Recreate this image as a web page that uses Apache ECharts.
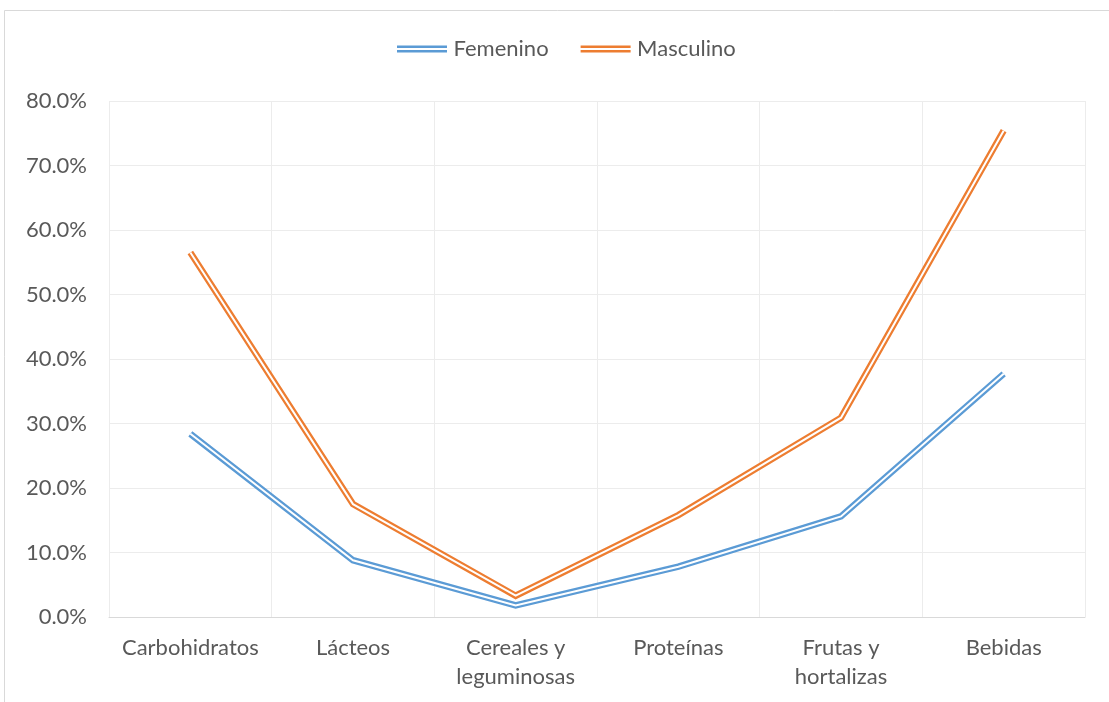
<!DOCTYPE html>
<html>
<head>
<meta charset="utf-8">
<script src="https://cdn.jsdelivr.net/npm/echarts@6/dist/echarts.min.js"></script>
<style>
  html, body { margin: 0; padding: 0; background: #ffffff; }
  #chart { width: 1109px; height: 702px; }
</style>
</head>
<body>
<div id="chart"></div>
<script>
// Categories and percentages per group
const categories = ['Carbohidratos', 'Lácteos', 'Cereales y\nleguminosas', 'Proteínas', 'Frutas y\nhortalizas', 'Bebidas'];
const femenino = [28.4, 8.8, 1.8, 7.8, 15.6, 37.7];
const masculino = [56.5, 17.5, 3.3, 15.8, 30.9, 75.4];
const yTicks = { min: 0, max: 80, interval: 10 };

const BLUE = '#5b9bd5';
const ORANGE = '#ed7d31';
const FONT = 'Lato, "Open Sans", sans-serif';
const FS = 22;

// Each series is drawn as a wide coloured stroke with a thin white stroke on top,
// giving a double-line appearance.
function doubleLine(name, data, color) {
  return [
    {
      name: name, type: 'line', data: data, symbol: 'none', silent: true,
      color: color,
      lineStyle: { color: color, width: 6.5, join: 'miter', cap: 'butt' },
      z: 2
    },
    {
      name: name + ' (inner)', type: 'line', data: data, symbol: 'none', silent: true,
      lineStyle: { color: '#ffffff', width: 2, join: 'miter', cap: 'butt' },
      z: 3
    }
  ];
}

const chart = echarts.init(document.getElementById('chart'), null, { renderer: 'canvas' });
chart.setOption({
  animation: false,
  backgroundColor: '#ffffff',
  textStyle: { fontFamily: FONT },
  graphic: [{
    type: 'rect', silent: true, z: -1,
    shape: { x: 4.5, y: 10.5, width: 1200, height: 800 },
    style: { fill: 'none', stroke: '#d9d9d9', lineWidth: 1 }
  }],
  legend: {
    data: [
      { name: 'Femenino', icon: 'path://M0,0H50V2.6H0Z M0,4.4H50V7H0Z' },
      { name: 'Masculino', icon: 'path://M0,0H50V2.6H0Z M0,4.4H50V7H0Z' }
    ],
    top: 33, left: 392,
    itemWidth: 53, itemHeight: 7, itemGap: 32,
    textStyle: { fontSize: FS, color: '#595959', fontFamily: FONT }
  },
  grid: { left: 109, right: 24, top: 101, bottom: 85, containLabel: false },
  xAxis: {
    type: 'category', data: categories, boundaryGap: true,
    axisLine: { lineStyle: { color: '#d9d9d9', width: 1 } },
    axisTick: { show: false },
    splitLine: { show: true, lineStyle: { color: '#ececec', width: 1 } },
    axisLabel: {
      color: '#595959', fontSize: FS, fontFamily: FONT, margin: 16,
      lineHeight: 29, interval: 0
    }
  },
  yAxis: {
    type: 'value', min: yTicks.min, max: yTicks.max, interval: yTicks.interval,
    axisLine: { show: false }, axisTick: { show: false },
    splitLine: { lineStyle: { color: '#ececec', width: 1 } },
    axisLabel: {
      color: '#595959', fontSize: FS, fontFamily: FONT, margin: 22,
      formatter: v => v.toFixed(1) + '%'
    }
  },
  series: [
    ...doubleLine('Femenino', femenino, BLUE),
    ...doubleLine('Masculino', masculino, ORANGE)
  ]
});
</script>
</body>
</html>
